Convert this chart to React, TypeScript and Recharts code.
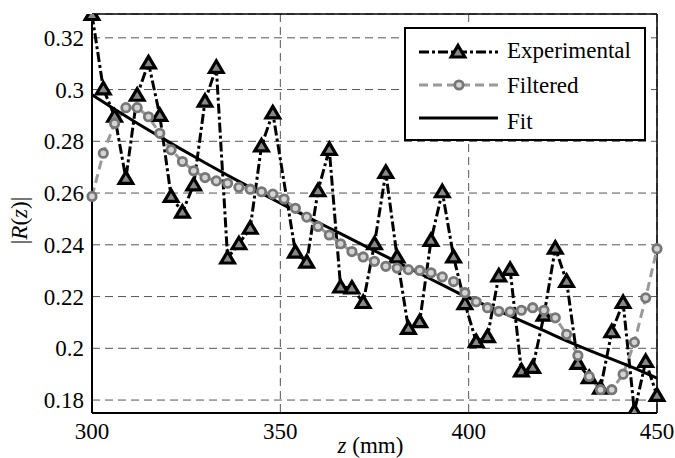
import {
  LineChart,
  Line,
  XAxis,
  YAxis,
  CartesianGrid,
  ReferenceLine,
  Legend,
} from "recharts"

// z positions (mm), one sample every 3 mm
const zValues = [
  300, 303, 306, 309, 312, 315, 318, 321, 324, 327, 330, 333, 336, 339, 342, 345, 348,
  351, 354, 357, 360, 363, 366, 369, 372, 375, 378, 381, 384, 387, 390, 393, 396, 399,
  402, 405, 408, 411, 414, 417, 420, 423, 426, 429, 432, 435, 438, 441, 444, 447, 450,
]

// measured |R(z)|, the 351 mm sample is missing in the original plot
const experimental = [
  0.329, 0.3003, 0.2897, 0.2657, 0.2978, 0.3103, 0.29, 0.2587, 0.2526, 0.2632, 0.2955,
  0.3086, 0.2349, 0.2404, 0.2464, 0.2782, 0.291, null, 0.2372, 0.2333, 0.2609, 0.2769,
  0.2237, 0.2233, 0.2177, 0.2404, 0.268, 0.2353, 0.2077, 0.2103, 0.2417, 0.2605, 0.2353,
  0.2173, 0.2026, 0.2045, 0.228, 0.2305, 0.1913, 0.1926, 0.2128, 0.2387, 0.2259, 0.1942,
  0.1887, 0.1846, 0.2064, 0.2177, 0.1756, 0.1949, 0.1818,
]

const filtered = [
  0.2587, 0.2754, 0.2869, 0.293, 0.293, 0.2895, 0.2831, 0.2767, 0.2722, 0.2686, 0.266,
  0.2647, 0.2638, 0.2622, 0.2615, 0.2605, 0.2596, 0.2577, 0.2541, 0.2507, 0.2471, 0.2438,
  0.2404, 0.2374, 0.2353, 0.2336, 0.2317, 0.231, 0.2304, 0.2301, 0.2292, 0.2276, 0.2258,
  0.2215, 0.218, 0.2157, 0.2143, 0.2141, 0.2147, 0.2157, 0.2147, 0.2118, 0.2054, 0.1972,
  0.1891, 0.184, 0.184, 0.19, 0.2023, 0.2195, 0.2385,
]

const fit = [
  0.298, 0.2952, 0.2924, 0.2897, 0.287, 0.2844, 0.2818, 0.2792, 0.2767, 0.2742, 0.2717,
  0.2693, 0.2669, 0.2645, 0.2622, 0.2599, 0.2576, 0.2553, 0.2531, 0.2509, 0.2487, 0.2465,
  0.2443, 0.2421, 0.2399, 0.2377, 0.2355, 0.2333, 0.2311, 0.2289, 0.2267, 0.2245, 0.2223,
  0.2201, 0.2182, 0.2163, 0.2144, 0.2125, 0.2106, 0.2087, 0.2068, 0.2048, 0.2029, 0.201,
  0.1992, 0.1975, 0.1958, 0.1941, 0.1923, 0.1904, 0.1885,
]

const xTicks = [300, 350, 400, 450]
const yTicks = [0.18, 0.2, 0.22, 0.24, 0.26, 0.28, 0.3, 0.32]

const Y_MIN = 0.175
const Y_MAX = 0.3292

const FONT = "Liberation Serif, Times New Roman, serif"
const FONT_SIZE = 23

const data = zValues.map((z, i) => ({
  z,
  experimental: experimental[i],
  filtered: filtered[i],
  fit: fit[i],
}))

function trianglePath(cx: number, cy: number) {
  return `M${cx},${cy - 6.5} L${cx + 6.8},${cy + 5} L${cx - 6.8},${cy + 5} Z`
}

const TriangleDot = (props: any) => {
  const { cx, cy, index } = props
  if (cx == null || cy == null) return <g key={`tri-${index}`} />
  return (
    <path
      key={`tri-${index}`}
      d={trianglePath(cx, cy)}
      fill="#888"
      stroke="#000"
      strokeWidth={3.2}
    />
  )
}

const CircleDot = (props: any) => {
  const { cx, cy, index } = props
  if (cx == null || cy == null) return <g key={`circ-${index}`} />
  return (
    <circle
      key={`circ-${index}`}
      cx={cx}
      cy={cy}
      r={4.2}
      fill="#d4d4d4"
      stroke="#777"
      strokeWidth={2.8}
    />
  )
}

const XLabel = ({ viewBox }: any) => {
  const { x, y, width } = viewBox
  return (
    <text x={x + width / 2 - 4} y={y + 40} textAnchor="middle" fontFamily={FONT} fontSize={FONT_SIZE} fill="#000">
      <tspan fontStyle="italic">z</tspan> (mm)
    </text>
  )
}

const YLabel = ({ viewBox }: any) => {
  const { y, height } = viewBox
  const cx = 27
  const cy = y + height / 2 + 7
  return (
    <text
      x={cx}
      y={cy}
      transform={`rotate(-90, ${cx}, ${cy})`}
      textAnchor="middle"
      fontFamily={FONT}
      fontSize={FONT_SIZE}
      fill="#000"
    >
      |<tspan fontStyle="italic">R</tspan>(<tspan fontStyle="italic">z</tspan>)|
    </text>
  )
}

const LegendBox = () => (
  <svg width={242} height={114} style={{ display: "block" }}>
    <rect x={1} y={1} width={240} height={112} fill="#fff" stroke="#000" strokeWidth={2} />
    <line x1={15} y1={25} x2={94} y2={25} stroke="#000" strokeWidth={3} strokeDasharray="10 3 3 3" />
    <path d={trianglePath(54, 25)} fill="#888" stroke="#000" strokeWidth={3.2} />
    <line x1={15} y1={58} x2={94} y2={58} stroke="#9a9a9a" strokeWidth={3} strokeDasharray="9 5" />
    <circle cx={55} cy={58} r={4.2} fill="#d4d4d4" stroke="#777" strokeWidth={2.8} />
    <line x1={15} y1={91} x2={94} y2={91} stroke="#000" strokeWidth={3} />
    <text x={103} y={31} fontFamily={FONT} fontSize={FONT_SIZE} fill="#000">Experimental</text>
    <text x={103} y={66} fontFamily={FONT} fontSize={FONT_SIZE} fill="#000">Filtered</text>
    <text x={103} y={102} fontFamily={FONT} fontSize={FONT_SIZE} fill="#000">Fit</text>
  </svg>
)

export default function App() {
  const tickStyle = { fill: "#000", fontSize: FONT_SIZE, fontFamily: FONT }

  return (
    <div style={{ position: "absolute", left: 0, top: 0, background: "#fff" }}>
      <LineChart
        width={675}
        height={458}
        data={data}
        margin={{ top: 14, right: 18, bottom: 0, left: 0 }}
      >
        <CartesianGrid stroke="#555" strokeDasharray="8 5" strokeWidth={1} />
        <XAxis
          dataKey="z"
          type="number"
          domain={[300, 450]}
          ticks={xTicks}
          height={45}
          tick={tickStyle}
          tickLine={false}
          tickSize={0}
          tickMargin={10}
          axisLine={{ stroke: "#000", strokeWidth: 2 }}
          label={<XLabel />}
        />
        <YAxis
          type="number"
          domain={[Y_MIN, Y_MAX]}
          allowDataOverflow
          ticks={yTicks}
          width={92}
          tick={tickStyle}
          tickLine={false}
          tickSize={0}
          tickMargin={8}
          axisLine={{ stroke: "#000", strokeWidth: 2 }}
          label={<YLabel />}
        />
        <ReferenceLine y={Y_MAX} stroke="#000" strokeWidth={1.5} />
        <ReferenceLine x={450} stroke="#000" strokeWidth={1.5} />
        <Line
          dataKey="experimental"
          stroke="#000"
          strokeWidth={3}
          strokeDasharray="10 3 3 3"
          connectNulls
          dot={TriangleDot}
          activeDot={false}
          isAnimationActive={false}
        />
        <Line
          dataKey="filtered"
          stroke="#9a9a9a"
          strokeWidth={3}
          strokeDasharray="9 5"
          dot={CircleDot}
          activeDot={false}
          isAnimationActive={false}
        />
        <Line
          dataKey="fit"
          stroke="#000"
          strokeWidth={3}
          dot={false}
          activeDot={false}
          isAnimationActive={false}
        />
        <Legend
          layout="horizontal"
          verticalAlign="middle"
          align="center"
          wrapperStyle={{ left: 404, top: 27, width: 242, height: 114 }}
          content={() => <LegendBox />}
        />
      </LineChart>
    </div>
  )
}
